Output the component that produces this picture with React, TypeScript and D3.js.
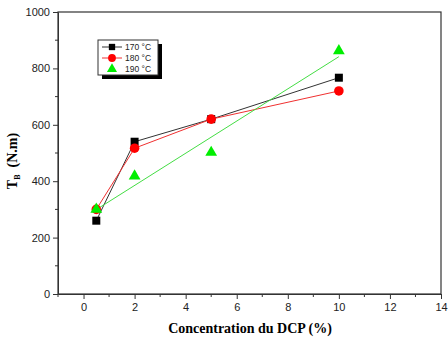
import * as d3 from "d3";
import { useEffect, useRef } from "react";

// Torque T_B vs DCP concentration, three temperatures
const dcp = [0.5, 2, 5, 10];
const t170 = [260, 540, 620, 767];
const t180 = [300, 517, 620, 720];
const t190 = [300, 418, 502, 862];
const xTicks = [0, 2, 4, 6, 8, 10, 12, 14];
const yTicks = [0, 200, 400, 600, 800, 1000];
const legendLabels = ["170 °C", "180 °C", "190 °C"];

export default function App() {
    const ref = useRef<SVGSVGElement>(null);

    useEffect(() => {
        const svg = d3.select(ref.current);
        svg.selectAll("*").remove();

        const width = 448;
        const height = 338;
        const margin = { top: 12, right: 7, bottom: 44, left: 58 };

        const x = d3.scaleLinear().domain([-1, 14]).range([margin.left, width - margin.right]);
        const y = d3.scaleLinear().domain([0, 1000]).range([height - margin.bottom, margin.top]);

        const font = "Arial, 'Liberation Sans', sans-serif";
        const serif = "'Times New Roman', 'Liberation Serif', serif";

        // frame
        svg.append("rect")
            .attr("x", x(-1)).attr("y", y(1000))
            .attr("width", x(14) - x(-1)).attr("height", y(0) - y(1000))
            .attr("fill", "none").attr("stroke", "#333").attr("stroke-width", 1.2);

        // x axis
        const xa = svg.append("g")
            .attr("transform", `translate(0,${y(0)})`)
            .call(d3.axisBottom(x).tickValues(xTicks).tickSize(5).tickSizeOuter(0).tickPadding(4));
        xa.select(".domain").attr("stroke", "#333");
        xa.selectAll("text").attr("font-family", font).attr("font-size", 11).attr("fill", "#222");
        xa.selectAll("line").attr("stroke", "#333");
        svg.append("g")
            .attr("transform", `translate(0,${y(0)})`)
            .selectAll("line")
            .data(d3.range(-1, 14, 2))
            .join("line")
            .attr("x1", d => x(d)).attr("x2", d => x(d))
            .attr("y1", 0).attr("y2", 3)
            .attr("stroke", "#333");

        // y axis
        const ya = svg.append("g")
            .attr("transform", `translate(${x(-1)},0)`)
            .call(d3.axisLeft(y).tickValues(yTicks).tickFormat(d3.format("d")).tickSize(5).tickSizeOuter(0).tickPadding(3));
        ya.select(".domain").attr("stroke", "#333");
        ya.selectAll("text").attr("font-family", font).attr("font-size", 11).attr("fill", "#222");
        ya.selectAll("line").attr("stroke", "#333");
        svg.append("g")
            .selectAll("line")
            .data(d3.range(100, 1000, 200))
            .join("line")
            .attr("x1", x(-1) - 3).attr("x2", x(-1))
            .attr("y1", d => y(d)).attr("y2", d => y(d))
            .attr("stroke", "#333");

        // axis titles
        svg.append("text")
            .attr("x", 250).attr("y", 333)
            .attr("text-anchor", "middle")
            .attr("font-family", serif)
            .attr("font-weight", "bold").attr("font-size", 14)
            .text("Concentration du DCP (%)");

        const yl = svg.append("text")
            .attr("transform", `translate(17,${(y(0) + y(1000)) / 2 + 8}) rotate(-90)`)
            .attr("text-anchor", "middle")
            .attr("font-family", serif)
            .attr("font-weight", "bold").attr("font-size", 14);
        yl.append("tspan").text("T");
        yl.append("tspan").attr("font-size", 8).attr("dy", 3).text("B");
        yl.append("tspan").attr("dy", -3).attr("xml:space", "preserve").text("\u00a0\u00a0(N.m)");

        const pts = (vals: number[]) => dcp.map((d, i) => [d, vals[i]] as [number, number]);
        const line = d3.line<[number, number]>().x(d => x(d[0])).y(d => y(d[1]));

        // connected lines for 170 and 180
        svg.append("path").datum(pts(t170)).attr("d", line)
            .attr("fill", "none").attr("stroke", "#333").attr("stroke-width", 1);
        svg.append("path").datum(pts(t180)).attr("d", line)
            .attr("fill", "none").attr("stroke", "#f03030").attr("stroke-width", 1);

        // least-squares line for 190
        const mx = d3.mean(dcp)!;
        const my = d3.mean(t190)!;
        const sxy = d3.sum(dcp, (d, i) => (d - mx) * (t190[i] - my));
        const sxx = d3.sum(dcp, d => (d - mx) ** 2);
        const slope = sxy / sxx;
        const icpt = my - slope * mx;
        const xe = d3.extent(dcp) as [number, number];
        svg.append("path").datum(xe.map(d => [d, icpt + slope * d] as [number, number])).attr("d", line)
            .attr("fill", "none").attr("stroke", "#44dd44").attr("stroke-width", 1);

        const sq = d3.symbol().type(d3.symbolSquare).size(64);
        const ci = d3.symbol().type(d3.symbolCircle).size(72);
        const tr = d3.symbol().type(d3.symbolTriangle).size(60);

        svg.append("g").selectAll("path").data(pts(t170)).join("path")
            .attr("d", sq()).attr("transform", d => `translate(${x(d[0])},${y(d[1])})`).attr("fill", "#000");
        svg.append("g").selectAll("path").data(pts(t180)).join("path")
            .attr("d", ci()).attr("transform", d => `translate(${x(d[0])},${y(d[1])})`).attr("fill", "#ff0000");
        svg.append("g").selectAll("path").data(pts(t190)).join("path")
            .attr("d", tr()).attr("transform", d => `translate(${x(d[0])},${y(d[1])})`).attr("fill", "#00ee00");

        // legend
        const lx = 98, ly = 40, lw = 60, lh = 35;
        svg.append("rect").attr("x", lx + 4).attr("y", ly + 4).attr("width", lw).attr("height", lh).attr("fill", "#000");
        svg.append("rect").attr("x", lx).attr("y", ly).attr("width", lw).attr("height", lh)
            .attr("fill", "#fff").attr("stroke", "#333").attr("stroke-width", 1);
        const colors = ["#333", "#f03030", null];
        const fills = ["#000", "#ff0000", "#00ee00"];
        const syms = [
            d3.symbol().type(d3.symbolSquare).size(40),
            d3.symbol().type(d3.symbolCircle).size(48),
            d3.symbol().type(d3.symbolTriangle).size(44),
        ];
        legendLabels.forEach((lab, i) => {
            const cy = ly + 7 + i * 11;
            if (colors[i]) {
                svg.append("line").attr("x1", lx + 4).attr("x2", lx + 24).attr("y1", cy).attr("y2", cy)
                    .attr("stroke", colors[i]).attr("stroke-width", 1);
            }
            svg.append("path").attr("d", syms[i]()).attr("transform", `translate(${lx + 14},${cy})`).attr("fill", fills[i]);
            svg.append("text").attr("x", lx + 27).attr("y", cy + 3)
                .attr("font-family", font).attr("font-size", 8.5).attr("fill", "#222").text(lab);
        });
    }, []);

    return (
        <svg ref={ref} width={448} height={338}
            style={{ position: "absolute", left: 0, top: 0, background: "#fff" }}></svg>
    );
}
